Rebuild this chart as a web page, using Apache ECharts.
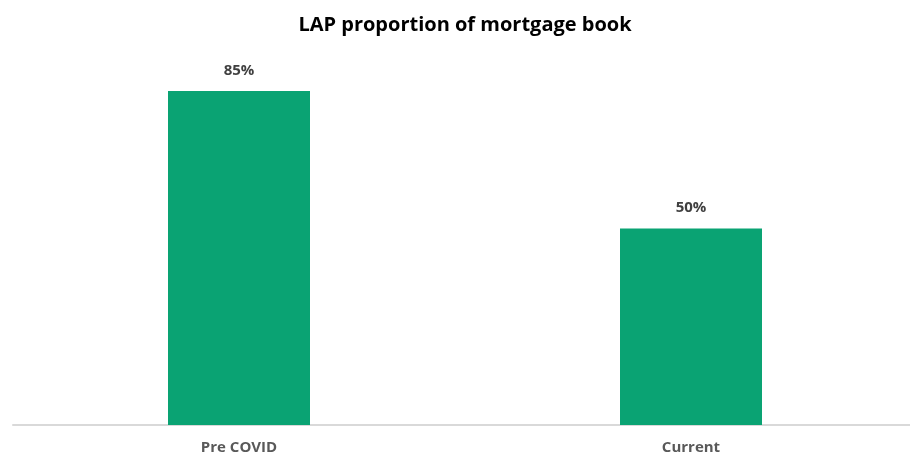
<!DOCTYPE html>
<html>
<head>
<meta charset="utf-8">
<script src="https://cdn.jsdelivr.net/npm/echarts@6/dist/echarts.min.js"></script>
<style>
  html, body { margin: 0; padding: 0; background: #fff; }
  #chart { width: 910px; height: 456px; }
</style>
</head>
<body>
<div id="chart"></div>
<script>
  var categories = ['Pre COVID', 'Current'];
  var lapShare = [85, 50];

  var myChart = echarts.init(document.getElementById('chart'));
  var option = {
    animation: false,
    title: {
      text: 'LAP proportion of mortgage book',
      left: 460,
      top: 10,
      textAlign: 'center',
      textStyle: {
        fontFamily: 'Open Sans',
        fontWeight: 'bold',
        fontSize: 20,
        color: '#000'
      }
    },
    grid: {
      left: 13,
      width: 904,
      top: 32,
      bottom: 31,
      outerBoundsMode: 'none',
      containLabel: false
    },
    xAxis: {
      type: 'category',
      data: categories,
      axisLine: { lineStyle: { color: '#d9d9d9', width: 2 } },
      axisTick: { show: false },
      axisLabel: {
        margin: 15,
        fontFamily: 'Open Sans',
        fontWeight: 'bold',
        fontSize: 15,
        color: '#595959'
      }
    },
    yAxis: {
      type: 'value',
      min: 0,
      max: 100,
      show: false,
      splitLine: { show: false }
    },
    series: [{
      type: 'bar',
      data: lapShare,
      barWidth: 142,
      itemStyle: { color: '#0aa373' },
      label: {
        show: true,
        position: 'top',
        distance: 13,
        formatter: '{c}%',
        fontFamily: 'Open Sans',
        fontWeight: 'bold',
        fontSize: 15,
        color: '#404040'
      }
    }]
  };
  myChart.setOption(option);
</script>
</body>
</html>
